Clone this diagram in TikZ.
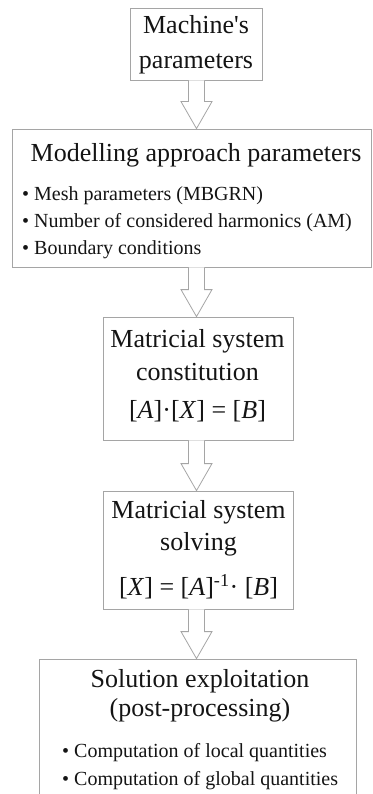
\documentclass[tikz,border=0pt]{standalone}
\usepackage{fontspec}
\setmainfont[Ligatures=TeXOff]{Liberation Serif}
\usepackage{xcolor}
\usepackage{tikz}
\usetikzlibrary{calc,
                positioning}

\definecolor{boxgray}{RGB}{165,165,165}
\definecolor{inkgray}{RGB}{20,20,20}

\tikzset{
  frame/.style={draw=boxgray, line width=0.8pt, inner sep=0pt},
  bigtext/.style={inner sep=0pt, align=center, text=inkgray,
                  font=\fontsize{26}{#1}\selectfont},
  listtext/.style={inner sep=0pt, align=left, text=inkgray, anchor=north west,
                   font=\fontsize{20}{#1}\selectfont},
  hollow/.style={draw=boxgray, line width=0.8pt, fill=white, line join=miter}
}

% hollow block arrow between two boxes, along the spine
\newcommand{\flowarrow}[2]{%
  \draw[hollow] ($(#1.south -| spine)+(-8,0)$)
    -- ($(#2.north -| spine)+(-8,-27)$)
    -- ($(#2.north -| spine)+(-15.5,-27)$)
    -- (#2.north -| spine)
    -- ($(#2.north -| spine)+(15.5,-27)$)
    -- ($(#2.north -| spine)+(8,-27)$)
    -- ($(#1.south -| spine)+(8,0)$);}

\begin{document}
\begin{tikzpicture}[x=1pt, y=-1pt]
\useasboundingbox (0,0) rectangle (372,794);
\clip (0,0) rectangle (372,794);
\coordinate (spine) at (196.5,0);

% boxes
\node[frame, minimum width=132, minimum height=72] (mach) at (196,44) {};
\node[frame, minimum width=359, minimum height=138] (model) at (191.5,198) {};
\node[frame, minimum width=190, minimum height=123] (constit) at (198,378.5) {};
\node[frame, minimum width=190, minimum height=118] (solve) at (198,550) {};
\node[frame, minimum width=317, minimum height=141] (exploit) at (197.5,729.5) {};

% texts
\node[bigtext=35, anchor=north] (machtxt) at (196,15.2) {Machine's\\parameters};
\node[bigtext=33, anchor=base] (modeltxt) at (196,162) {Modelling approach parameters};
\node[listtext=27] (modellist) at (22,186.3)
  {\textbullet\ Mesh parameters (MBGRN)\\
   \textbullet\ Number of considered harmonics (AM)\\
   \textbullet\ Boundary conditions};
\node[bigtext=33, anchor=north] (constittxt) at (197.5,329.2)
  {Matricial system\\constitution\\[5pt]
   [\textit{A}]·[\textit{X}] = [\textit{B}]};
\node[bigtext=32, anchor=north] (solvetxt) at (198.5,500.2)
  {Matricial system\\solving\\[13pt]
   [\textit{X}] = [\textit{A}]\textsuperscript{-1}· [\textit{B}]};
\node[bigtext=29, anchor=north] (exploittxt) at (200,669.2)
  {Solution exploitation\\(post-processing)};
\node[listtext=28] (exploitlist) at (62,743.3)
  {\textbullet\ Computation of local quantities\\
   \textbullet\ Computation of global quantities};

% arrows
\flowarrow{mach}{model}
\flowarrow{model}{constit}
\flowarrow{constit}{solve}
\flowarrow{solve}{exploit}
\end{tikzpicture}
\end{document}
